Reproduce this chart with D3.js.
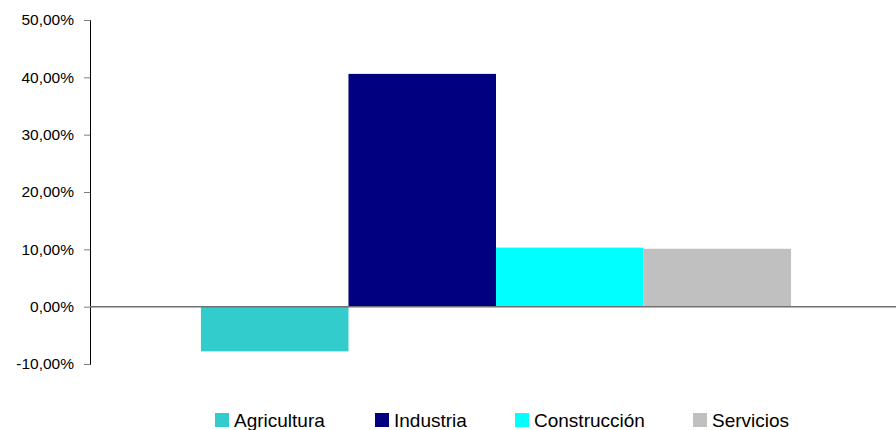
<!DOCTYPE html>
<html>
<head>
<meta charset="utf-8">
<script src="https://cdn.jsdelivr.net/npm/d3@7"></script>
<style>
  body { margin: 0; background: #fff; }
  svg { display: block; font-family: "Liberation Sans", Arial, sans-serif; }
</style>
</head>
<body>
<svg id="chart"></svg>
<script>
const categories = [""];
const seriesNames = ["Agricultura", "Industria", "Construcción", "Servicios"];
const seriesValues = [-7.8, 40.6, 10.3, 10.1];
const seriesColors = ["#33cccc", "#000080", "#00ffff", "#c0c0c0"];
const yTicks = [-10, 0, 10, 20, 30, 40, 50];

const width = 896, height = 430;
const margin = { top: 20, right: -6, bottom: 66, left: 90 };

const svg = d3.select("#chart").attr("width", width).attr("height", height);

const x0 = d3.scaleBand()
  .domain(categories)
  .range([margin.left, width - margin.right])
  .paddingInner(0)
  .paddingOuter(0.188);

const x1 = d3.scaleBand()
  .domain(seriesNames)
  .range([0, x0.bandwidth()]);

const y = d3.scaleLinear()
  .domain([-10, 50])
  .range([height - margin.bottom, margin.top]);

const fmt = d => d3.format(".2f")(d).replace(".", ",").replace("−", "-") + "%";

// y axis
const yAxis = svg.append("g")
  .attr("transform", "translate(" + margin.left + ",0)")
  .call(d3.axisLeft(y).tickValues(yTicks).tickFormat(fmt).tickSize(6).tickPadding(10));
yAxis.select(".domain").attr("stroke", "#000").attr("stroke-width", 1);
yAxis.selectAll(".tick line").attr("stroke", "#808080");
yAxis.selectAll(".tick text").attr("font-size", 15.5).attr("fill", "#000");

// bars
const data = seriesNames.map((s, i) => ({ name: s, value: seriesValues[i], color: seriesColors[i] }));
svg.append("g")
  .attr("transform", "translate(" + x0(categories[0]) + ",0)")
  .selectAll("rect")
  .data(data)
  .join("rect")
  .attr("x", d => x1(d.name))
  .attr("width", x1.bandwidth())
  .attr("y", d => y(Math.max(0, d.value)))
  .attr("height", d => Math.abs(y(d.value) - y(0)))
  .attr("fill", d => d.color);

// zero line
svg.append("line")
  .attr("x1", margin.left)
  .attr("x2", width)
  .attr("y1", y(0))
  .attr("y2", y(0))
  .attr("stroke", "#707070")
  .attr("stroke-width", 1.5);

// legend
const legendX = [215, 375, 515, 693];
const legend = svg.append("g").attr("transform", "translate(0,420)");
const item = legend.selectAll("g")
  .data(data)
  .join("g")
  .attr("transform", (d, i) => "translate(" + legendX[i] + ",0)");
item.append("rect")
  .attr("x", 0).attr("y", -7)
  .attr("width", 14).attr("height", 14)
  .attr("fill", d => d.color);
item.append("text")
  .attr("x", 19).attr("y", 0)
  .attr("dy", "0.35em")
  .attr("font-size", 19)
  .attr("fill", "#000")
  .text(d => d.name);
</script>
</body>
</html>
